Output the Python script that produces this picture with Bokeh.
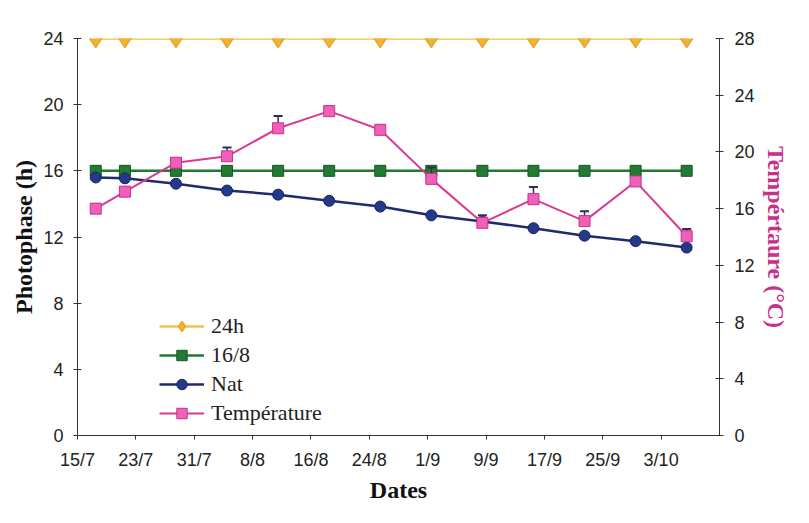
import pandas as pd
from bokeh.plotting import figure
from bokeh.models import Range1d, LinearAxis, FixedTicker, ColumnDataSource
from bokeh.embed import file_html
from bokeh.resources import INLINE

# ---- data ----
dates = ["17/7", "21/7", "28/7", "4/8", "11/8", "18/8", "25/8",
         "1/9", "8/9", "15/9", "22/9", "29/9", "6/10"]
photo_24h = [24] * 13
photo_16_8 = [16] * 13
photo_nat = [15.6, 15.55, 15.22, 14.81, 14.56, 14.19, 13.84,
             13.31, 12.94, 12.53, 12.08, 11.75, 11.36]
temperature = [16.0, 17.2, 19.24, 19.69, 21.67, 22.88, 21.56,
               18.1, 15.0, 16.67, 15.12, 17.92, 14.05]
temp_err = [0.3, 0.3, 0.3, 0.62, 0.87, 0.3, 0.3,
            0.8, 0.53, 0.86, 0.7, 0.2, 0.52]
tick_labels = ["15/7", "23/7", "31/7", "8/8", "16/8", "24/8", "1/9",
               "9/9", "17/9", "25/9", "3/10"]
axis_start, axis_end = "15/7", "11/10"

YEAR = 2001
def to_day(s):
    d, m = s.split("/")
    return (pd.Timestamp(YEAR, int(m), int(d)) - pd.Timestamp(YEAR, 7, 15)).days

x = [to_day(d) + 0.5 for d in dates]   # points centred in their day (Excel date axis)
ticks = [to_day(t) for t in tick_labels]

src = ColumnDataSource(dict(x=x, h24=photo_24h, h16=photo_16_8, nat=photo_nat,
                            t=temperature, terr=[t + e for t, e in zip(temperature, temp_err)]))

p = figure(width=793, height=507, output_backend="svg", toolbar_location=None,
           x_range=Range1d(to_day(axis_start), to_day(axis_end)),
           y_range=Range1d(0, 24),
           min_border_left=77, min_border_right=74, min_border_top=38, min_border_bottom=72)
p.extra_y_ranges = {"temp": Range1d(0, 28)}
p.grid.visible = False
p.outline_line_color = None
p.background_fill_color = "white"
p.border_fill_color = "white"

C24, C16, CNAT, CT = "#F5C04A", "#1E7A2E", "#1F2B6E", "#D93A92"

p.line("x", "h24", source=src, color=C24, line_width=2.5, legend_label="24h")
p.scatter("x", "h24", source=src, marker="diamond", size=18, fill_color="#F2B235",
          line_color="#E9A82C", line_width=1.5, legend_label="24h")
p.line("x", "h16", source=src, color=C16, line_width=2.5, legend_label="16/8")
p.scatter("x", "h16", source=src, marker="square", size=11, fill_color="#247A34",
          line_color="#145A20", legend_label="16/8")
p.line("x", "nat", source=src, color=CNAT, line_width=2.5, legend_label="Nat")
p.scatter("x", "nat", source=src, marker="circle", size=11, fill_color="#24398A",
          line_color="#18245E", legend_label="Nat")

p.segment("x", "t", "x", "terr", source=src, color="#2A3050", line_width=1.5,
          y_range_name="temp")
p.scatter("x", "terr", source=src, marker="dash", size=9, line_color="#2A3050",
          line_width=2, y_range_name="temp")
p.line("x", "t", source=src, color=CT, line_width=2, legend_label="Température",
       y_range_name="temp")
p.scatter("x", "t", source=src, marker="square", size=11, fill_color="#F060B8",
          line_color="#C8308A", legend_label="Température", y_range_name="temp")

# axes
TICK_FONT = "Liberation Sans"
LAB_FONT = "Liberation Serif"
xa = p.xaxis[0]
xa.ticker = FixedTicker(ticks=ticks)
xa.major_label_overrides = {t: l for t, l in zip(ticks, tick_labels)}
xa.axis_label = "Dates"
xa.minor_tick_line_color = None
xa.major_tick_in = 0
xa.major_tick_out = 4

ya = p.yaxis[0]
ya.ticker = FixedTicker(ticks=list(range(0, 25, 4)))
ya.axis_label = "Photophase (h)"
ya.minor_tick_line_color = None
ya.major_tick_in = 4
ya.major_tick_out = 4

yr = LinearAxis(y_range_name="temp", axis_label="Tempértaure (°C)")
yr.ticker = FixedTicker(ticks=list(range(0, 29, 4)))
yr.minor_tick_line_color = None
yr.major_tick_in = 4
yr.major_tick_out = 4
p.add_layout(yr, "right")

for ax in (xa, ya, yr):
    ax.axis_line_color = "#333333"
    ax.major_tick_line_color = "#333333"
    ax.major_label_text_font = TICK_FONT
    ax.major_label_text_font_size = "18px"
    ax.major_label_text_color = "#222222"
    ax.axis_label_text_font = LAB_FONT
    ax.axis_label_text_font_size = "24px"
    ax.axis_label_text_font_style = "bold"
    ax.axis_label_text_color = "#111111"
xa.major_label_standoff = 10
xa.axis_label_standoff = 4
ya.major_label_standoff = 10
ya.axis_label_standoff = 3
yr.major_label_standoff = 11
yr.axis_label_standoff = 5
yr.axis_label_text_color = "#C8308A"

lg = p.legend[0]
lg.location = (82, 9)
lg.border_line_alpha = 0
lg.background_fill_alpha = 0
lg.label_text_font = LAB_FONT
lg.label_text_font_size = "22px"
lg.label_text_color = "#222222"
lg.glyph_width = 45
lg.glyph_height = 26
lg.label_height = 26
lg.label_standoff = 7
lg.spacing = 3
lg.padding = 0
lg.margin = 0

open("out.html", "w").write(file_html(p, INLINE))
